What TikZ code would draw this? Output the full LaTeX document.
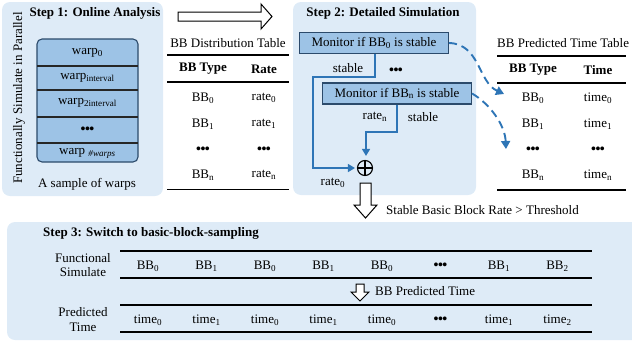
\documentclass[tikz,border=0pt]{standalone}
\usepackage{fontspec}
\setmainfont{Liberation Serif}
\newfontfamily\tnr{Liberation Serif}
\usetikzlibrary{arrows.meta,calc}
\definecolor{panelbg}{HTML}{DEEBF7}
\definecolor{boxfill}{HTML}{9DC3E6}
\definecolor{boxline}{HTML}{2B4A6B}
\definecolor{flowc}{HTML}{2E75B6}
\tikzset{
  txt/.style={font=\tnr\fontsize{13}{14.5}\selectfont, inner sep=0pt},
  btxt/.style={font=\tnr\fontsize{13}{14.5}\selectfont\bfseries, inner sep=0pt},
  panel/.style={fill=panelbg, draw=none, rounded corners=8pt},
  monbox/.style={draw=boxline, line width=1.1pt, fill=boxfill, minimum width=149pt, minimum height=21pt, inner sep=0pt, font=\tnr\fontsize{13}{14.5}\selectfont},
  flow/.style={draw=flowc, line width=1.3pt, -{Triangle[length=7pt,width=8pt]}},
  dashflow/.style={draw=flowc, line width=1.9pt, dash pattern=on 8pt off 5pt, -{Triangle[length=8pt,width=9pt]}},
  rulet/.style={line width=1.2pt, black},
  hollow/.style={draw=black, line width=1pt, fill=white, line join=miter},
  dots/.style={font=\tnr\fontsize{14}{14}\selectfont\bfseries, inner sep=0pt}
}
\newcommand{\dotsthree}{\textbullet\kern-0.5pt\textbullet\kern-0.5pt\textbullet}
\begin{document}
\begin{tikzpicture}[x=1pt,y=-1pt]
\useasboundingbox (0,0) rectangle (632,346);
\clip (0,0) rectangle (632,346);
% panels
\fill[panel] (2,2) rectangle (163,196);
\fill[panel] (293,2) rectangle (476,195);
\fill[panel] (7,222) rectangle (650,340);

% ---------- Step 1 ----------
\node[btxt] (s1title) at (95,13) {Step 1: Online Analysis};
\node[txt, rotate=90] (vert) at (19,98) {Functionally Simulate in Parallel};
\draw[fill=boxfill, draw=boxline, line width=1.1pt, rounded corners=5pt] (37,39) rectangle (138,162);
\foreach \yy in {66,90,117,143} \draw[line width=1.1pt, black!85] (37,\yy) -- (138,\yy);
\node[txt] (w0) at (87.5,53) {warp\textsubscript{0}};
\node[txt] (w1) at (87.5,78) {warp\textsubscript{interval}};
\node[txt] (w2) at (87.5,103) {warp\textsubscript{2interval}};
\node[dots] (w3) at (87.5,130) {\dotsthree};
\node[txt] (w4) at (87.5,153) {warp \textsubscript{\textit{\#warps}}};
\node[txt] (sample) at (87,184) {A sample of warps};

% hollow arrow right
\draw[hollow] (178,12) -- (261,12) -- (261,4) -- (272,16.5) -- (261,29) -- (261,21) -- (178,21) -- cycle;

% ---------- BB Distribution Table ----------
\node[txt] (dtitle) at (228,43) {BB Distribution Table};
\draw[rulet] (167,55) -- (289,55);
\draw[rulet] (167,82) -- (289,82);
\draw[rulet] (167,189.5) -- (289,189.5);
\node[btxt] (dh1) at (203,69) {BB Type};
\node[btxt] (dh2) at (264,69) {Rate};
\node[txt] (d10) at (203,98) {BB\textsubscript{0}};
\node[txt] (d20) at (264,98) {rate\textsubscript{0}};
\node[txt] (d11) at (203,124) {BB\textsubscript{1}};
\node[txt] (d21) at (264,124) {rate\textsubscript{1}};
\node[dots] (d12) at (203,150) {\dotsthree};
\node[dots] (d22) at (264,150) {\dotsthree};
\node[txt] (d13) at (203,175) {BB\textsubscript{n}};
\node[txt] (d23) at (264,175) {rate\textsubscript{n}};

% ---------- Step 2 ----------
\node[btxt] (s2title) at (383,13) {Step 2: Detailed Simulation};
\node[monbox] (m0) at (374,43) {Monitor if BB\textsubscript{0} is stable};
\node[monbox] (mn) at (397,93.5) {Monitor if BB\textsubscript{n} is stable};
\node[dots] (mdots) at (396,71) {\dotsthree};
\node[txt] (st0) at (348,68) {stable};
\node[txt] (ratn) at (375,117) {rate\textsubscript{n}};
\node[txt] (stn) at (423,117) {stable};
\node[txt] (rat0) at (333,183) {rate\textsubscript{0}};
\node[circle, draw=black, line width=1.1pt, minimum size=15pt, inner sep=0pt] (plus) at (365,168) {};
\draw[line width=1.1pt] (plus.north) -- (plus.south);
\draw[line width=1.1pt] (plus.west) -- (plus.east);
\coordinate (c0) at (375,77);
\coordinate (c1) at (313,77);
\coordinate (cn) at (397,132);
\coordinate (cn2) at (366,132);
\draw[flow] (m0.south -| c0) -- (c0) -- (c1) |- ($(plus.west)+(-2,0)$);
\draw[flow] (mn.south -| cn) -- (cn) -- (cn2) -- ($(plus.north -| cn2)+(0,-4)$);

% dashed curves
\coordinate (e0) at (504,94);
\coordinate (en) at (506,149);
\draw[dashflow] (m0.east) .. controls (480,44) and (478,82) .. (e0);
\draw[dashflow] (mn.east) .. controls (490,104) and (505,125) .. (en);

% big down hollow arrow
\draw[hollow] (360,183) -- (371,183) -- (371,205) -- (377,205) -- (365.5,218) -- (354,205) -- (360,205) -- cycle;
\node[txt, anchor=west] (thr) at (386,210) {Stable Basic Block Rate > Threshold};

% ---------- BB Predicted Time Table ----------
\node[txt, anchor=west] (ptitle) at (497,43) {BB Predicted Time Table};
\draw[rulet] (497,56) -- (626,56);
\draw[rulet] (497,83) -- (626,83);
\draw[rulet] (497,190) -- (626,190);
\node[btxt] (ph1) at (533,70) {BB Type};
\node[btxt] (ph2) at (598,70) {Time};
\node[txt] (p10) at (533,98) {BB\textsubscript{0}};
\node[txt] (p20) at (598,98) {time\textsubscript{0}};
\node[txt] (p11) at (533,124) {BB\textsubscript{1}};
\node[txt] (p21) at (598,124) {time\textsubscript{1}};
\node[dots] (p12) at (533,150) {\dotsthree};
\node[dots] (p22) at (598,150) {\dotsthree};
\node[txt] (p13) at (533,175) {BB\textsubscript{n}};
\node[txt] (p23) at (598,175) {time\textsubscript{n}};

% ---------- Step 3 ----------
\node[btxt, anchor=west] (s3title) at (43,233) {Step 3: Switch to basic-block-sampling};
\node[txt, align=center] (fs) at (83,265) {Functional\\Simulate};
\node[txt, align=center] (pt) at (83,319.5) {Predicted\\Time};
\draw[rulet] (120,251) -- (592,251);
\draw[rulet] (120,278) -- (592,278);
\draw[rulet] (120,305) -- (592,305);
\draw[rulet] (120,332) -- (592,332);
\node[txt] (r1a) at (148,266) {BB\textsubscript{0}};
\node[txt] (r1b) at (206.5,266) {BB\textsubscript{1}};
\node[txt] (r1c) at (265,266) {BB\textsubscript{0}};
\node[txt] (r1d) at (323.5,266) {BB\textsubscript{1}};
\node[txt] (r1e) at (382,266) {BB\textsubscript{0}};
\node[dots] (r1f) at (440.5,266) {\dotsthree};
\node[txt] (r1g) at (499,266) {BB\textsubscript{1}};
\node[txt] (r1h) at (557.5,266) {BB\textsubscript{2}};
\node[txt] (r2a) at (148,320) {time\textsubscript{0}};
\node[txt] (r2b) at (206.5,320) {time\textsubscript{1}};
\node[txt] (r2c) at (265,320) {time\textsubscript{0}};
\node[txt] (r2d) at (323.5,320) {time\textsubscript{1}};
\node[txt] (r2e) at (382,320) {time\textsubscript{0}};
\node[dots] (r2f) at (440.5,320) {\dotsthree};
\node[txt] (r2g) at (499,320) {time\textsubscript{1}};
\node[txt] (r2h) at (557.5,320) {time\textsubscript{2}};
\draw[hollow] (356,284) -- (364,284) -- (364,292) -- (369,292) -- (360,301) -- (351,292) -- (356,292) -- cycle;
\node[txt, anchor=west] (bbpt) at (375,291) {BB Predicted Time};
\end{tikzpicture}
\end{document}
